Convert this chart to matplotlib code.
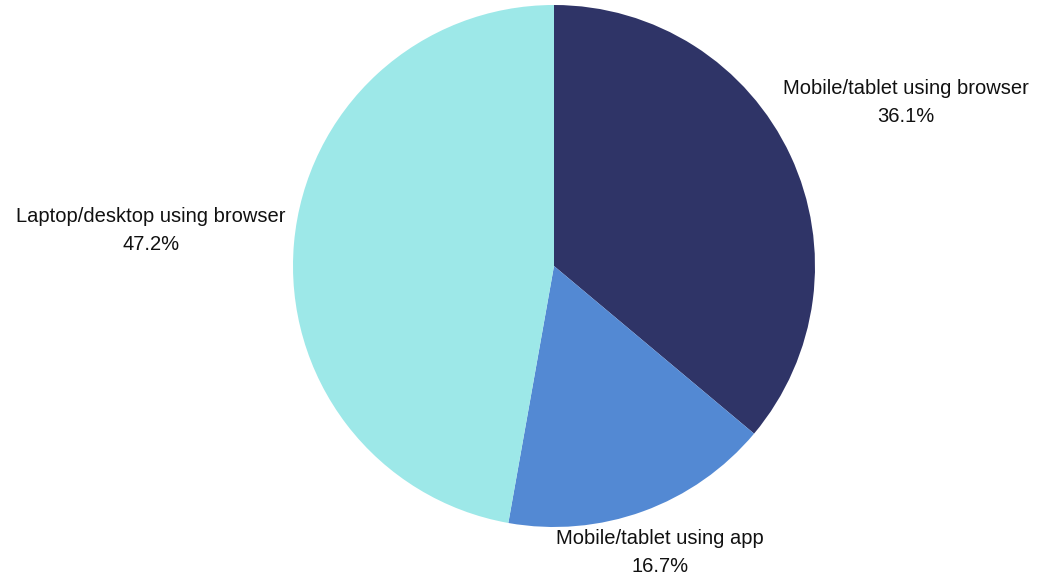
import matplotlib
matplotlib.use("Agg")
import matplotlib.pyplot as plt

categories = ["Mobile/tablet using browser", "Mobile/tablet using app", "Laptop/desktop using browser"]
shares = [36.1, 16.7, 47.2]
colors = ["#2F3467", "#5389D3", "#9DE8E8"]

W, H = 1053, 577
fig = plt.figure(figsize=(W / 100, H / 100), dpi=100)
ax = fig.add_axes([0, 0, 1, 1])

cx, cy, r = 554, H - 266, 261
ax.pie(shares, colors=colors, startangle=90, counterclock=False,
       center=(cx, cy), radius=r, frame=True,
       wedgeprops=dict(linewidth=0, antialiased=True))
ax.set_xlim(0, W)
ax.set_ylim(0, H)
ax.set_aspect("equal")
ax.axis("off")

label_pos = [(906, H - 102), (660, H - 553), (151, H - 231)]
for name, val, (x, y) in zip(categories, shares, label_pos):
    ax.text(x, y, f"{name}\n{val:.1f}%", ha="center", va="center",
            fontsize=14.5, family="Liberation Sans", color="#111111",
            linespacing=1.6)

fig.savefig("out.png", dpi=100)
